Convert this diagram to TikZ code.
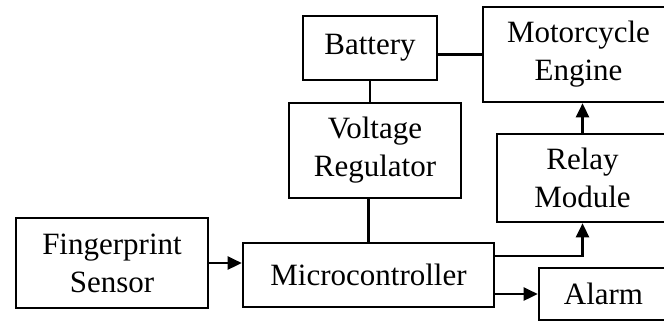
\documentclass[tikz,border=0pt]{standalone}
\usepackage{fontspec}
\setmainfont{Liberation Serif}
\usetikzlibrary{arrows.meta,positioning}

\begin{document}
\begin{tikzpicture}[
  x=1pt, y=-1pt,
  box/.style={rectangle, draw, line width=2.6pt, inner sep=0pt, text centered, align=center, font=\fontsize{31}{38}\selectfont},
  wire/.style={line width=2.6pt},
  arrow/.style={-{Triangle[length=14pt,width=13pt]}, line width=2.6pt}
]
  \clip (0,0) rectangle (664,322);
  \node[box, minimum width=192pt, minimum height=90pt] (sensor) at (112,263) {Fingerprint\\Sensor};
  \node[box, minimum width=251pt, minimum height=64pt] (mcu) at (368.5,275) {Microcontroller};
  \node[box, minimum width=172pt, minimum height=95pt] (vreg) at (375,150.5) {Voltage\\Regulator};
  \node[box, minimum width=134pt, minimum height=64pt] (battery) at (370,48) {Battery};
  \node[box, minimum width=191pt, minimum height=95pt] (engine) at (578.5,54.5) {Motorcycle\\Engine};
  \node[box, minimum width=171pt, minimum height=88pt] (relay) at (582.5,178) {Relay\\Module};
  \node[box, minimum width=129pt, minimum height=52pt] (alarm) at (603.5,294) {Alarm};
  \draw[wire] (engine.west) -- (engine.west -| battery.east);
  \draw[wire] (battery.south) -- (battery.south |- vreg.north);
  \draw[wire] (mcu.north) -- (mcu.north |- vreg.south);
  \draw[arrow] (sensor.east) -- (sensor.east -| mcu.west);
  \draw[arrow] ([yshift=19pt]mcu.east) -| (relay.south);
  \draw[arrow] (mcu.east |- alarm.west) -- (alarm.west);
  \draw[arrow] (relay.north) -- (relay.north |- engine.south);
\end{tikzpicture}
\end{document}
